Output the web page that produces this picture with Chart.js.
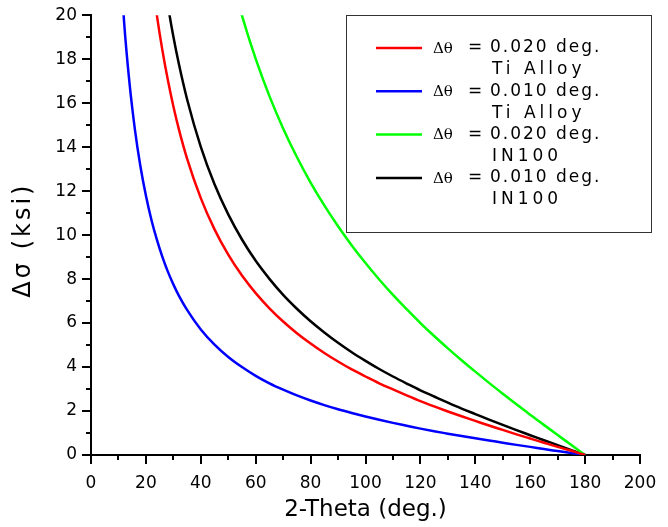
<!DOCTYPE html>
<html>
<head>
<meta charset="utf-8">
<script src="https://cdn.jsdelivr.net/npm/chart.js@4.4.1/dist/chart.umd.min.js"></script>
<style>
html, body { margin: 0; padding: 0; background: #fff; }
</style>
</head>
<body>
<canvas id="stress_chart" width="668" height="527"></canvas>
<script>
var twoTheta = [10, 12, 14, 16, 18, 20, 22, 24, 26, 28, 30, 32, 35, 40, 45, 50, 55, 60, 65, 70, 75, 80, 85, 90, 95, 100, 105, 110, 115, 120, 125, 130, 135, 140, 145, 150, 155, 160, 165, 170, 175, 180];

// delta sigma (ksi) for each curve, null = off the top of the plot
var tiAlloy020 = [null, null, null, null, null, 24.10, 21.86, 19.99, 18.41, 17.05, 15.86, 14.82, 13.48, 11.68, 10.26, 9.11, 8.16, 7.36, 6.67, 6.07, 5.54, 5.07, 4.64, 4.25, 3.89, 3.57, 3.26, 2.98, 2.71, 2.45, 2.21, 1.98, 1.76, 1.55, 1.34, 1.14, 0.94, 0.75, 0.56, 0.37, 0.19, 0];
var tiAlloy010 = [23.77, 19.79, 16.94, 14.80, 13.13, 11.80, 10.70, 9.79, 9.01, 8.34, 7.76, 7.25, 6.60, 5.71, 5.02, 4.46, 4.00, 3.60, 3.26, 2.97, 2.71, 2.48, 2.27, 2.08, 1.91, 1.75, 1.60, 1.46, 1.33, 1.20, 1.08, 0.97, 0.86, 0.76, 0.66, 0.56, 0.46, 0.37, 0.27, 0.18, 0.09, 0];
var in100_020 = [null, null, null, null, null, null, null, null, null, null, null, null, null, 28.57, 25.11, 22.30, 19.98, 18.01, 16.32, 14.85, 13.55, 12.39, 11.35, 10.40, 9.53, 8.73, 7.98, 7.28, 6.63, 6.00, 5.41, 4.85, 4.31, 3.79, 3.28, 2.79, 2.31, 1.83, 1.37, 0.91, 0.45, 0];
var in100_010 = [null, null, null, null, null, null, 26.24, 23.99, 22.09, 20.46, 19.03, 17.79, 16.18, 14.01, 12.31, 10.94, 9.80, 8.83, 8.01, 7.28, 6.65, 6.08, 5.57, 5.10, 4.67, 4.28, 3.91, 3.57, 3.25, 2.94, 2.66, 2.38, 2.11, 1.86, 1.61, 1.37, 1.13, 0.90, 0.67, 0.45, 0.22, 0];

var stepLabels = ['0.020 deg.', '0.010 deg.', '0.020 deg.', '0.010 deg.'];
var materialLabels = ['Ti Alloy', 'Ti Alloy', 'IN100', 'IN100'];
var lineColors = ['#ff0000', '#0000ff', '#00ff00', '#000000'];

function toPoints(vals) {
    return twoTheta.map(function (x, i) { return { x: x, y: vals[i] }; });
}

var allSeries = [tiAlloy020, tiAlloy010, in100_020, in100_010];

const dt = {
    datasets: allSeries.map(function (vals, i) {
        return {
            label: 'Δθ = ' + stepLabels[i] + ' ' + materialLabels[i],
            data: toPoints(vals),
            borderColor: lineColors[i],
            borderWidth: 2.5,
            pointRadius: 0,
            fill: false,
            cubicInterpolationMode: 'monotone'
        };
    })
};

// short ticks between the labelled ones, plus the spaced-out y title
const minorTicks = {
    id: 'minorTicks',
    afterDraw: function (chart) {
        const ctx = chart.ctx;
        const xs = chart.scales.x, ys = chart.scales.y;
        const area = chart.chartArea;
        ctx.save();
        ctx.strokeStyle = '#000';
        ctx.lineWidth = 2;
        ctx.beginPath();
        for (var v = 10; v < 200; v += 20) {
            var px = Math.round(xs.getPixelForValue(v));
            ctx.moveTo(px, area.bottom);
            ctx.lineTo(px, area.bottom + 5);
        }
        for (var w = 1; w < 20; w += 2) {
            var py = Math.round(ys.getPixelForValue(w));
            ctx.moveTo(area.left, py);
            ctx.lineTo(area.left - 5, py);
        }
        ctx.stroke();

        ctx.translate(24, (area.top + area.bottom) / 2 + 5);
        ctx.rotate(-Math.PI / 2);
        ctx.fillStyle = '#000';
        ctx.font = '24px "DejaVu Sans"';
        ctx.letterSpacing = '3px';
        ctx.textAlign = 'center';
        ctx.textBaseline = 'middle';
        ctx.fillText('Δσ (ksi)', 0, 0);
        ctx.restore();
    }
};

// boxed legend in the top right corner
const boxLegend = {
    id: 'boxLegend',
    afterDraw: function (chart) {
        const ctx = chart.ctx;
        ctx.save();
        ctx.strokeStyle = '#333';
        ctx.lineWidth = 1;
        ctx.strokeRect(346.5, 15.5, 305, 217);
        chart.data.datasets.forEach(function (ds, i) {
            var y = 48 + i * 43.3;
            ctx.strokeStyle = ds.borderColor;
            ctx.lineWidth = 2.5;
            ctx.beginPath();
            ctx.moveTo(376, y);
            ctx.lineTo(422, y);
            ctx.stroke();
            ctx.fillStyle = '#000';
            ctx.textBaseline = 'middle';
            ctx.letterSpacing = '0px';
            ctx.font = '15px "DejaVu Serif"';
            ctx.fillText('Δθ', 433, y + 1);
            ctx.font = '17px "DejaVu Sans"';
            ctx.fillText('=', 468, y);
            ctx.letterSpacing = '2px';
            ctx.fillText(stepLabels[i], 490, y);
            ctx.letterSpacing = '4px';
            ctx.fillText(materialLabels[i], 492, y + 22);
        });
        ctx.restore();
    }
};

const config_stress = {
    type: 'line',
    data: dt,
    options: {
        responsive: false,
        animation: false,
        layout: { padding: { top: 15, right: 28, left: 0, bottom: 0 } },
        plugins: {
            legend: { display: false },
            tooltip: { enabled: false }
        },
        scales: {
            x: {
                type: 'linear',
                min: 0,
                max: 200,
                border: { display: true, color: '#000', width: 2 },
                grid: { drawOnChartArea: false, drawTicks: true, tickLength: 9, color: '#000', lineWidth: 2 },
                ticks: { stepSize: 20, color: '#000', padding: 9, maxRotation: 0, font: { family: 'DejaVu Sans', size: 17 } },
                title: { display: true, text: '2-Theta (deg.)', color: '#000', padding: { top: 2, bottom: 3 }, font: { family: 'DejaVu Sans', size: 23 } },
                afterFit: function (scale) { scale.height = 72; }
            },
            y: {
                type: 'linear',
                min: 0,
                max: 20,
                border: { display: true, color: '#000', width: 2 },
                grid: { drawOnChartArea: false, drawTicks: true, tickLength: 9, color: '#000', lineWidth: 2 },
                ticks: { stepSize: 2, color: '#000', padding: 5, font: { family: 'DejaVu Sans', size: 17 } },
                title: { display: false },
                afterFit: function (scale) { scale.width = 91; }
            }
        }
    },
    plugins: [minorTicks, boxLegend]
};

const stress_chart = new Chart(
    document.getElementById('stress_chart'),
    config_stress
);
</script>
</body>
</html>
